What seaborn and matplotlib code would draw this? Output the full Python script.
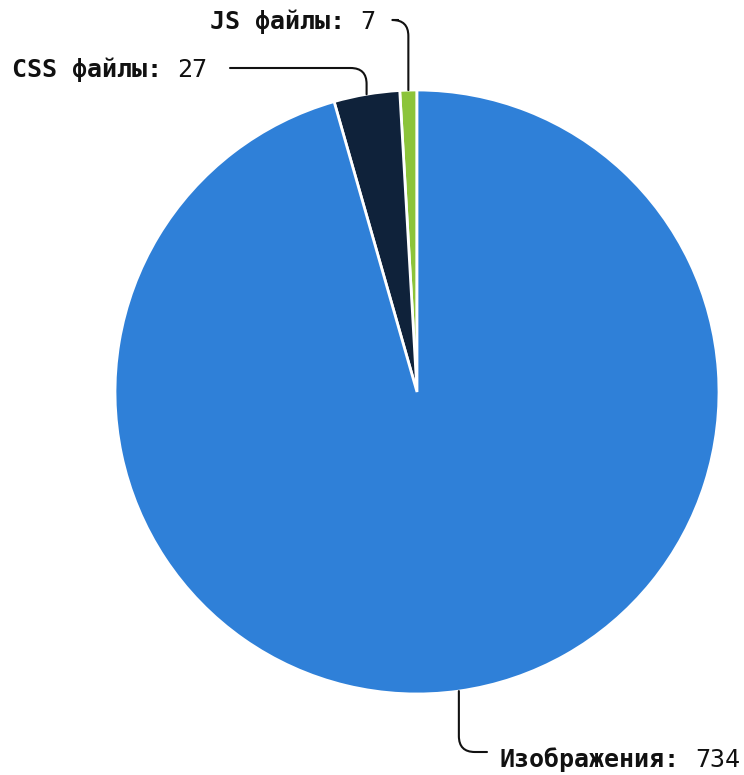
import numpy as np
import matplotlib
matplotlib.use("Agg")
import matplotlib.pyplot as plt
import seaborn as sns

# ===============================================================
# DATA
# ===============================================================
labels = ["JS файлы", "CSS файлы", "Изображения"]
values = [7, 27, 734]
colors = ["#8cc43a", "#0f223a", "#2f80d8"]

# ===============================================================
# LAYOUT (pixel positions of the reference, converted to data units)
# ===============================================================
W, H = 744, 775
CX, CY, R = 417, 392, 302

def px(x, y):
    return ((x - CX) / R, (CY - y) / R)

# text left edge / vertical centre, and where the leader line begins
text_pos = [(210, 22), (12, 70), (500, 760)]
line_start = [(398, 20), (230, 68), (487, 752)]
font_size = 18
char_pt = 0.602 * font_size  # monospace advance width in points

# ===============================================================
# PLOT
# ===============================================================
sns.set_theme(style="white")
plt.rcParams["font.family"] = ["DejaVu Sans Mono", "DejaVu Sans"]

fig = plt.figure(figsize=(W / 100, H / 100), dpi=100)
ax = fig.add_axes([0, 0, 1, 1])

wedges, _ = ax.pie(
    values,
    colors=colors,
    startangle=90,
    counterclock=True,
    radius=1,
    wedgeprops=dict(edgecolor="white", linewidth=2),
)

ax.set_xlim(-CX / R, (W - CX) / R)
ax.set_ylim((CY - H) / R, CY / R)
ax.set_aspect("equal")
ax.axis("off")

for w, lab, val, tp, ls in zip(wedges, labels, values, text_pos, line_start):
    ang = np.deg2rad((w.theta1 + w.theta2) / 2)
    tip = (np.cos(ang), np.sin(ang))
    ax.annotate(
        "",
        xy=tip,
        xytext=px(*ls),
        arrowprops=dict(
            arrowstyle="-",
            color="#111111",
            lw=1.5,
            shrinkA=0,
            shrinkB=0,
            connectionstyle="angle,angleA=0,angleB=90,rad=16",
        ),
    )
    tx, ty = px(*tp)
    name = lab + ":"
    ax.text(tx, ty, name, fontsize=font_size, fontweight="bold",
            ha="left", va="center", color="#111111")
    ax.annotate(str(val), xy=(tx, ty), xytext=((len(name) + 1) * char_pt, 0),
                textcoords="offset points", fontsize=font_size,
                ha="left", va="center", color="#111111")

fig.savefig("out.png", dpi=100)
